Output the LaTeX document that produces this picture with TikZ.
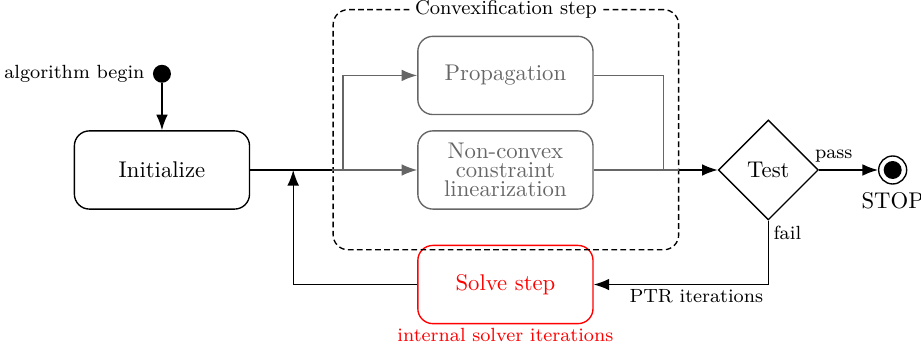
\documentclass[tikz,border=0pt]{standalone}
\usepackage{xcolor}
\usepackage{tikz}
\usetikzlibrary{positioning,arrows.meta,fit,calc,shapes.geometric}
\newcommand{\lblsize}{\fontsize{8.4pt}{10pt}\selectfont}
\tikzset{
  state/.style={draw, rounded corners=0.232cm, align=center, minimum width=2.71cm, minimum height=1.21cm, semithick},
  gstate/.style={state, draw=black!60, text=black!60},
  rstate/.style={state, draw=red, text=red},
  cluster/.style={draw, semithick, dash pattern=on 2.5pt off 1.5pt, rounded corners=0.232cm, inner sep=0pt},
  decide/.style={draw, diamond, aspect=1, minimum width=1.547cm, minimum height=1.547cm, inner sep=0pt, semithick},
  edge/.style={-{Latex[length=2.4mm, width=1.8mm]}, semithick},
  gedge/.style={edge, black!60},
  wire/.style={semithick},
  gwire/.style={wire, black!60},
  lbl/.style={font=\lblsize},
}

\begin{document}
\begin{tikzpicture}[node distance=5mm and 5mm]
  \useasboundingbox (0,0) rectangle (14.25,-5.476);
  \node[state] (init) at (2.506,-2.630) {Initialize};
  \node[circle, fill, inner sep=0pt, minimum size=0.278cm, above=0.727cm of init,
        label={[lbl]left:algorithm begin}] (start) {};
  \node[gstate, right=2.583cm of init] (ncl) {Non-convex\\[-3.5pt]constraint\\[-3.5pt]linearization};
  \node[gstate, above=0.232cm of ncl] (prop) {Propagation};
  \node[rstate, below=0.541cm of ncl,
        label={[lbl, text=red, inner sep=1.5pt]below:internal solver iterations}] (solve) {Solve step};
  \node[decide, right=1.918cm of ncl] (test) {Test};
  \node[circle, draw, semithick, inner sep=0pt, minimum size=0.433cm, right=0.913cm of test,
        label=below:STOP] (stop) {};
  \node[circle, fill, inner sep=0pt, minimum size=0.278cm] (stopdot) at (stop) {};
  \node[cluster, fit={($(prop.north west)+(-1.3,0.402)$) ($(ncl.south east)+(1.315,-0.619)$)}] (conv) {};
  \node[fill=white, font=\fontsize{8.8pt}{10pt}\selectfont, inner sep=2pt] (convlabel) at (conv.north) {Convexification step};
  % branch points inside the convexification block
  \coordinate (split) at ($(ncl.west)+(-1.145,0)$);
  \coordinate (merge) at ($(ncl.east)+(1.083,0)$);
  \coordinate (ret) at ($(init.east)+(0.665,0)$);
  \draw[edge] (start) -- (init);
  \draw[wire] (init.east) -- (conv.west |- init.east);
  \draw[gedge] (conv.west |- ncl.west) -- (ncl.west);
  \draw[gedge] (split) |- (prop.west);
  \draw[gwire] (prop.east) -| (merge);
  \draw[gwire] (ncl.east) -- (conv.east |- ncl.east);
  \draw[edge] (conv.east |- ncl.east) -- (test.west);
  \draw[edge] (test.east) -- node[pos=0.25, above, lbl] (passlabel) {pass} (stop.west);
  \draw[edge] (test.south) node[below right, inner sep=2pt, lbl] (faillabel) {fail}
    -- (test.south |- solve.east) node[below left, inner sep=2pt, lbl] (ptrlabel) {PTR iterations}
    -- (solve.east);
  \draw[edge] (solve.west) -| (ret);
\end{tikzpicture}
\end{document}
